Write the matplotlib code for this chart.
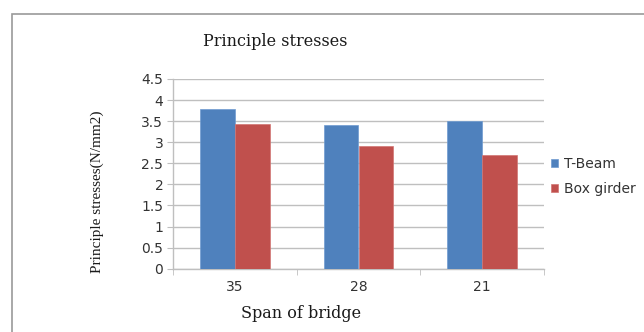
import matplotlib
matplotlib.use("Agg")
import matplotlib.pyplot as plt
import numpy as np
from matplotlib.patches import Rectangle

# values
spans = ["35", "28", "21"]
t_beam = [3.80, 3.40, 3.50]
box_girder = [3.44, 2.92, 2.69]
y_ticks = [0, 0.5, 1, 1.5, 2, 2.5, 3, 3.5, 4, 4.5]
y_labels = ["0", "0.5", "1", "1.5", "2", "2.5", "3", "3.5", "4", "4.5"]

blue = "#4F81BD"
red = "#C0504D"
grid_col = "#BFBFBF"
serif = ["DejaVu Serif"]
serif_narrow = ["Liberation Serif", "DejaVu Serif"]
sans = ["DejaVu Sans"]

fig = plt.figure(figsize=(6.44, 3.32), dpi=100)
fig.patch.set_facecolor("white")

# outer chart frame
fig.patches.append(Rectangle((12 / 644, -0.05), 1.0, 1 - 14 / 332 + 0.05,
                             transform=fig.transFigure, fill=False,
                             edgecolor="#9A9A9A", linewidth=1.2))

ax = fig.add_axes([173 / 644, 1 - 268.7 / 332, (544 - 173) / 644, (268.7 - 79) / 332])

x = np.arange(len(spans))
w = 0.283
ax.bar(x - w / 2, t_beam, w, color=blue, edgecolor="#6F9BD1", linewidth=0.5,
       label="T-Beam", zorder=3)
ax.bar(x + w / 2, box_girder, w, color=red, edgecolor="#D27573", linewidth=0.5,
       label="Box girder", zorder=3)

ax.set_xlim(-0.5, len(spans) - 0.5)
ax.set_ylim(0, 4.5)
ax.set_yticks(y_ticks)
ax.set_yticklabels(y_labels, family=sans, fontsize=10, color="#333333")
ax.set_xticks(x)
ax.set_xticklabels(spans, family=sans, fontsize=10, color="#333333")
ax.tick_params(axis="x", length=0, pad=8)
ax.set_xticks(np.arange(-0.5, len(spans), 1), minor=True)
ax.tick_params(axis="x", which="minor", length=4, color=grid_col, direction="out")
ax.tick_params(axis="y", length=4, color=grid_col, direction="out", pad=3)

ax.yaxis.grid(True, color=grid_col, linewidth=1.0, zorder=0)
ax.set_axisbelow(True)
for side in ["top", "right"]:
    ax.spines[side].set_visible(False)
for side in ["left", "bottom"]:
    ax.spines[side].set_color(grid_col)
    ax.spines[side].set_linewidth(1.0)

fig.text(275 / 644, 1 - 42 / 332, "Principle stresses", family=serif,
         fontsize=11.5, ha="center", va="center", color="#1a1a1a")
fig.text(97 / 644, 1 - 192 / 332, "Principle stresses(N/mm2)", family=serif_narrow,
         fontsize=11, rotation=90, ha="center", va="center", color="#1a1a1a")
fig.text(301 / 644, 1 - 314 / 332, "Span of bridge", family=serif,
         fontsize=11.5, ha="center", va="center", color="#1a1a1a")

leg = ax.legend(loc="center left", bbox_to_anchor=(1.0, 0.485), frameon=False,
                prop={"family": sans, "size": 10}, handlelength=0.5,
                handleheight=0.5, handletextpad=0.45, labelspacing=0.8,
                borderaxespad=0.1)
for t in leg.get_texts():
    t.set_color("#333333")

fig.savefig("out.png", dpi=100)
